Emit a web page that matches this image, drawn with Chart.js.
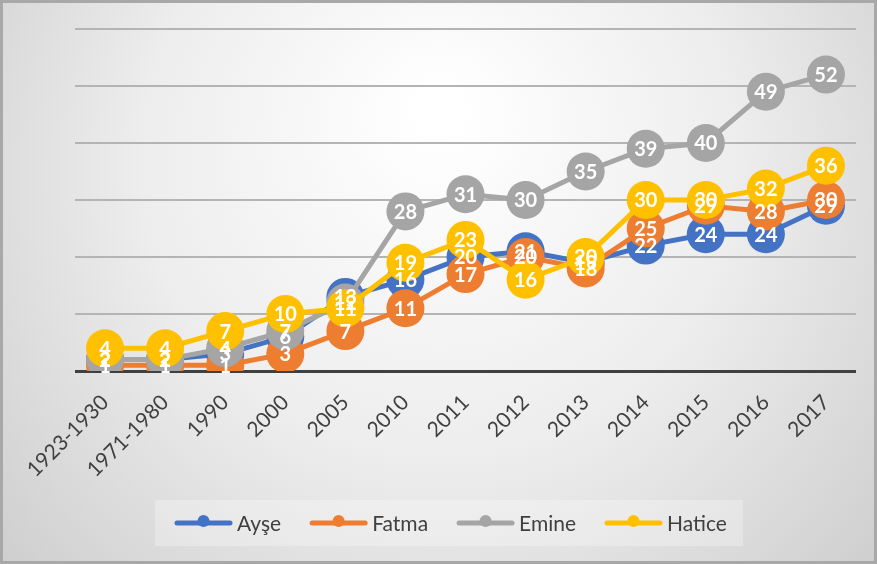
<!DOCTYPE html>
<html>
<head>
<meta charset="utf-8">
<script src="https://cdn.jsdelivr.net/npm/chart.js@4/dist/chart.umd.min.js"></script>
<style>
  html, body { margin: 0; padding: 0; background: #d0d0d0; }
  #wrap { width: 877px; height: 564px; position: relative; }
  canvas { display: block; }
</style>
</head>
<body>
<div id="wrap"><canvas id="c" width="877" height="564"></canvas></div>
<script>
const categories = ['1923-1930', '1971-1980', '1990', '2000', '2005', '2010', '2011', '2012', '2013', '2014', '2015', '2016', '2017'];
const ayse   = [2, 2, 3, 6, 13, 16, 20, 21, 19, 22, 24, 24, 29];
const fatma  = [1, 1, 1, 3, 7, 11, 17, 20, 18, 25, 29, 28, 30];
const emine  = [2, 2, 4, 7, 12, 28, 31, 30, 35, 39, 40, 49, 52];
const hatice = [4, 4, 7, 10, 11, 19, 23, 16, 20, 30, 30, 32, 36];
const seriesNames = ['Ayşe', 'Fatma', 'Emine', 'Hatice'];
const seriesColors = ['#4472C4', '#ED7D31', '#A5A5A5', '#FFC000'];
const yTicks = { min: 0, max: 60, step: 10 };

const seriesData = [ayse, fatma, emine, hatice];

const bgPlugin = {
  id: 'bg',
  beforeDraw(chart) {
    const ctx = chart.ctx;
    const w = chart.width, h = chart.height;
    ctx.save();
    const g = ctx.createRadialGradient(440, 110, 20, 440, 220, 640);
    g.addColorStop(0, '#ffffff');
    g.addColorStop(0.45, '#ededed');
    g.addColorStop(1, '#c6c6c6');
    ctx.fillStyle = g;
    ctx.fillRect(0, 0, w, h);
    ctx.strokeStyle = '#a8a8a8';
    ctx.lineWidth = 3;
    ctx.strokeRect(1.5, 1.5, w - 3, h - 3);
    ctx.restore();
  }
};

const labelPlugin = {
  id: 'dlabels',
  afterDatasetsDraw(chart) {
    const ctx = chart.ctx;
    ctx.save();
    ctx.font = 'bold 20px Lato, "Open Sans", sans-serif';
    ctx.fillStyle = '#ffffff';
    ctx.textAlign = 'center';
    ctx.textBaseline = 'middle';
    chart.data.datasets.forEach((ds, i) => {
      const meta = chart.getDatasetMeta(i);
      meta.data.forEach((pt, j) => {
        ctx.fillText(String(ds.data[j]), pt.x, pt.y + 1);
      });
    });
    ctx.restore();
  }
};

const legendPlugin = {
  id: 'customLegend',
  afterDraw(chart) {
    const ctx = chart.ctx;
    ctx.save();
    ctx.font = '21px Lato, "Open Sans", sans-serif';
    const cy = 523;
    const startX = 175;
    const lineW = 57, gapText = 5, gapItem = 29;
    let x = startX;
    const items = [];
    chart.data.datasets.forEach((ds) => {
      const tw = ctx.measureText(ds.label).width;
      items.push({ x, tw, ds });
      x += lineW + gapText + tw + gapItem;
    });
    const endX = x - gapItem;
    ctx.fillStyle = 'rgba(255,255,255,0.28)';
    ctx.fillRect(startX - 20, cy - 23, endX - startX + 36, 46);
    items.forEach(it => {
      ctx.strokeStyle = it.ds.borderColor;
      ctx.lineWidth = 5;
      ctx.lineCap = 'round';
      ctx.beginPath();
      ctx.moveTo(it.x + 2, cy);
      ctx.lineTo(it.x + lineW - 2, cy);
      ctx.stroke();
      ctx.fillStyle = it.ds.borderColor;
      ctx.beginPath();
      ctx.arc(it.x + lineW / 2, cy - 2, 6, 0, Math.PI * 2);
      ctx.fill();
      ctx.fillStyle = '#404040';
      ctx.textAlign = 'left';
      ctx.textBaseline = 'middle';
      ctx.fillText(it.ds.label, it.x + lineW + gapText, cy + 1);
    });
    ctx.restore();
  }
};

new Chart(document.getElementById('c'), {
  type: 'line',
  data: {
    labels: categories,
    datasets: seriesData.map((d, i) => ({
      label: seriesNames[i],
      data: d,
      order: seriesData.length - i,
      borderColor: seriesColors[i],
      backgroundColor: seriesColors[i],
      pointBackgroundColor: seriesColors[i],
      pointBorderWidth: 0,
      pointRadius: 19,
      pointHoverRadius: 19,
      borderWidth: 5,
      tension: 0
    }))
  },
  options: {
    responsive: false,
    animation: false,
    devicePixelRatio: 1,
    layout: { padding: { left: 75, right: 21, top: 29, bottom: 63 } },
    plugins: {
      legend: { display: false },
      tooltip: { enabled: false }
    },
    scales: {
      x: {
        offset: true,
        grid: { display: false },
        border: { display: false },
        afterFit(scale) { scale.height = 130; },
        ticks: {
          autoSkip: false,
          maxRotation: 45,
          minRotation: 45,
          padding: 11,
          color: '#404040',
          font: { family: 'Lato, "Open Sans", sans-serif', size: 21 }
        }
      },
      y: {
        min: yTicks.min,
        max: yTicks.max,
        afterFit(scale) { scale.width = 0; },
        ticks: { display: false, stepSize: yTicks.step },
        border: { display: false },
        grid: {
          drawTicks: false,
          color: (c) => c.tick && c.tick.value === 0 ? '#404040' : '#b4b4b4',
          lineWidth: (c) => c.tick && c.tick.value === 0 ? 3 : 2
        }
      }
    }
  },
  plugins: [bgPlugin, labelPlugin, legendPlugin]
});
</script>
</body>
</html>
